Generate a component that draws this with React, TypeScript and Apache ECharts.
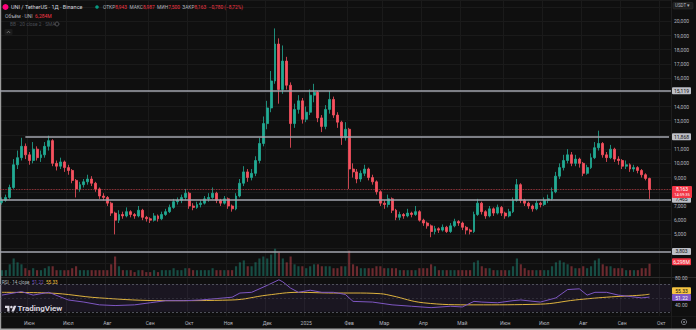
import React, { useEffect, useRef } from 'react';
import * as echarts from 'echarts';

// ---------- DATA (3-day candles, UNI/USDT) ----------
const START_DATE = '2024-05-11';
const SLOT_COUNT = 172; // candles + empty right margin slots
const FIRST_OPEN = 7.25;

const closes = [
  7.4, 7.6, 8.3, 9.9, 10.4, 11.2, 10.6, 10.2, 11.0, 10.4,
  10.6, 11.2, 11.6, 10.0, 9.8, 10.1, 9.7, 9.5, 8.8, 8.2,
  8.5, 8.7, 8.9, 8.6, 8.2, 7.7, 7.6, 7.2, 6.5, 6.0,
  6.4, 6.3, 6.6, 6.4, 6.3, 6.7, 6.2, 6.1, 6.0, 6.3,
  6.1, 6.4, 6.6, 6.9, 7.3, 7.4, 7.6, 7.9, 7.0, 6.9,
  7.1, 7.2, 7.5, 7.6, 7.9, 7.4, 7.2, 7.5, 7.0, 6.8,
  7.7, 8.6, 9.4, 9.0, 9.3, 10.2, 11.4, 12.8, 13.9, 15.8,
  18.4, 15.2, 17.2, 15.5, 12.8, 13.8, 14.4, 13.1, 13.6, 14.8,
  15.0, 13.2, 12.6, 13.8, 14.5, 13.4, 12.9, 11.8, 12.4, 9.6,
  9.4, 8.9, 9.3, 9.6, 9.0, 8.7, 8.0, 7.2, 7.1, 7.5,
  6.7, 6.2, 6.4, 6.3, 6.5, 6.4, 6.6, 6.0, 5.8, 5.6,
  5.2, 5.4, 5.3, 5.5, 5.2, 5.6, 5.9, 5.8, 5.5, 5.3,
  5.2, 6.4, 7.2, 6.6, 6.3, 6.8, 6.5, 6.9, 6.5, 6.3,
  6.6, 7.4, 8.5, 7.4, 7.2, 7.0, 6.8, 7.2, 7.1, 7.4,
  7.5, 8.0, 9.1, 9.7, 10.2, 10.6, 10.0, 10.3, 10.0, 9.3,
  9.7, 10.4, 11.1, 11.4, 10.6, 10.4, 11.0, 10.3, 10.2, 9.8,
  9.9, 9.6, 9.7, 9.5, 9.2, 8.94, 8.163,
];

const lows = [
  7.1, 7.3, 7.5, 8.2, 9.6, 10.2, 10.3, 9.9, 10.0, 10.2,
  10.1, 10.4, 10.9, 9.8, 9.5, 9.6, 9.4, 9.2, 8.6, 7.6,
  8.0, 8.3, 8.5, 8.4, 8.0, 7.5, 7.4, 7.0, 6.3, 5.0,
  5.8, 6.1, 6.2, 6.2, 6.1, 6.2, 6.0, 5.9, 5.8, 5.9,
  5.9, 6.0, 6.3, 6.5, 6.8, 7.1, 7.2, 7.4, 6.8, 6.7,
  6.8, 6.9, 7.1, 7.3, 7.5, 7.2, 7.0, 7.1, 6.8, 6.6,
  6.7, 7.6, 8.4, 8.7, 8.8, 9.1, 10.0, 11.2, 12.4, 13.6,
  15.6, 14.2, 14.9, 15.2, 11.1, 12.5, 13.5, 12.8, 12.9, 13.4,
  14.3, 12.9, 12.2, 12.4, 13.5, 13.2, 12.5, 11.3, 11.6, 8.2,
  9.0, 8.6, 8.7, 9.1, 8.8, 8.5, 7.8, 7.0, 6.8, 6.9,
  6.5, 6.0, 6.0, 6.1, 6.2, 6.2, 6.3, 5.9, 5.6, 5.4,
  4.8, 5.0, 5.1, 5.2, 5.1, 5.1, 5.5, 5.6, 5.3, 5.0,
  5.0, 5.1, 6.3, 6.4, 6.1, 6.2, 6.3, 6.4, 6.3, 6.1,
  6.2, 6.5, 7.3, 7.2, 7.0, 6.8, 6.6, 6.7, 6.9, 7.0,
  7.2, 7.4, 7.9, 8.9, 9.5, 10.0, 9.8, 9.8, 9.7, 9.1,
  9.2, 9.6, 10.3, 10.9, 10.4, 10.1, 10.3, 10.1, 9.9, 9.6,
  9.6, 9.4, 9.4, 9.3, 9.0, 8.8, 7.5,
];

const highs = [
  7.6, 7.8, 8.5, 10.3, 10.9, 11.8, 11.4, 10.8, 11.5, 11.2,
  10.9, 11.5, 11.95, 11.7, 10.2, 10.4, 10.2, 9.9, 9.6, 8.9,
  8.7, 8.9, 9.2, 9.1, 8.7, 8.3, 7.9, 7.7, 7.3, 6.6,
  6.7, 6.6, 6.9, 6.7, 6.5, 7.0, 6.8, 6.3, 6.2, 6.5,
  6.4, 6.6, 6.8, 7.1, 7.5, 7.6, 7.8, 8.2, 8.0, 7.2,
  7.3, 7.4, 7.7, 7.9, 8.3, 8.0, 7.5, 7.7, 7.6, 7.1,
  7.9, 8.9, 9.8, 9.6, 9.6, 10.5, 11.8, 13.3, 14.4, 16.5,
  19.5, 18.8, 18.3, 17.5, 15.7, 14.2, 14.8, 14.6, 14.0, 15.2,
  15.6, 15.1, 13.4, 14.1, 15.1, 14.7, 13.6, 13.0, 12.9, 12.5,
  10.0, 9.6, 9.5, 9.9, 9.7, 9.2, 8.8, 8.1, 7.4, 7.8,
  7.6, 6.8, 6.6, 6.5, 6.8, 6.6, 7.0, 6.7, 6.1, 5.9,
  5.7, 5.6, 5.5, 5.7, 5.6, 5.8, 6.1, 6.0, 5.9, 5.6,
  5.4, 6.6, 7.5, 7.3, 6.7, 7.0, 6.9, 7.1, 7.0, 6.6,
  6.8, 7.6, 8.9, 8.6, 7.5, 7.3, 7.1, 7.4, 7.3, 7.6,
  7.8, 8.3, 9.4, 10.0, 10.6, 11.0, 10.8, 10.6, 10.4, 10.1,
  9.9, 10.7, 11.5, 12.3, 11.5, 10.8, 11.3, 11.1, 10.5, 10.3,
  10.2, 10.0, 9.9, 9.8, 9.6, 9.3, 8.99,
];

// volume, millions UNI
const volumes = [
  3, 3, 6, 9, 7, 6, 4, 3, 4, 3,
  3, 4, 5, 5, 3, 3, 3, 3, 4, 5,
  3, 3, 3, 3, 3, 3, 3, 3, 6, 10,
  5, 3, 3, 3, 2, 3, 3, 2, 2, 3,
  2, 3, 3, 3, 4, 3, 3, 4, 4, 3,
  3, 3, 3, 3, 4, 3, 3, 3, 3, 3,
  5, 7, 8, 5, 5, 7, 9, 10, 9, 11,
  14, 12, 9, 7, 10, 6, 5, 5, 4, 5,
  6, 6, 5, 5, 5, 4, 4, 5, 5, 13,
  6, 5, 4, 4, 4, 4, 5, 5, 4, 4,
  4, 4, 3, 3, 3, 3, 3, 4, 4, 4,
  6, 5, 3, 3, 3, 3, 3, 3, 3, 3,
  3, 7, 8, 5, 4, 4, 3, 3, 3, 3,
  3, 5, 9, 6, 4, 3, 3, 3, 3, 3,
  3, 5, 7, 8, 7, 6, 5, 4, 4, 5,
  4, 5, 8, 9, 6, 5, 5, 4, 4, 4,
  3, 3, 3, 3, 4, 4, 6.3,
];

// RSI (14) read at selected candles
const rsiIdx = [0, 5, 8, 12, 17, 21, 25, 29, 34, 38, 42, 47, 51, 59, 61, 64, 68, 71, 72, 74, 76, 79, 82, 85, 88, 90, 95, 100, 105, 110, 115, 118, 121, 123, 127, 131, 133, 138, 142, 145, 148, 150, 152, 155, 158, 161, 164, 166];
const rsiVal = [54, 59, 54, 58, 47, 44, 40, 39, 40, 43, 46, 46, 47, 51, 57, 58, 68, 76, 73, 64, 58, 61, 58, 58, 55, 45, 44, 40, 38, 36, 38, 37, 45, 44, 43, 46, 47, 44, 50, 62, 63, 54, 58, 58, 54, 52, 50, 51.22];
// RSI-based moving average
const maIdx = [0, 12, 25, 42, 59, 68, 76, 85, 90, 97, 100, 108, 121, 138, 147, 155, 164, 166];
const maVal = [58, 57, 50, 46, 47, 54, 58, 57, 57, 56, 53, 43, 40, 41, 47, 51, 54, 55.33];

// horizontal levels drawn on the chart
const levels = [15.119, 11.868, 7.465, 3.803];
const levelStartIdx = [0, 6, 0, 0];
const levelLabels = ['15,119', '11,868', '7,465', '3,803'];
const lastPrice = 8.163;
const lastPriceLabel = '8,163';
const countdownLabel = '14:59:35';
const lastVolumeLabel = '6,298M';
const rsiLabel = '51.22';
const maLabel = '55.33';
const hiddenPriceTicks = [2, 3, 4, 8, 12, 15, 21];

const MONTHS = ['Янв', 'Фев', 'Мар', 'Апр', 'Май', 'Июн', 'Июл', 'Авг', 'Сен', 'Окт', 'Ноя', 'Дек'];

// ---------- helpers ----------
const DAY = 86400000;
const startMs = Date.parse(START_DATE + 'T00:00:00Z');
const categories: string[] = [];
const monthLabels: string[] = [];
for (let i = 0; i < SLOT_COUNT; i++) {
  categories.push(new Date(startMs + i * 3 * DAY).toISOString().slice(0, 10));
  let lab = '';
  for (let k = -1; k <= 1; k++) {
    const d = new Date(startMs + (3 * i + k) * DAY);
    if (d.getUTCDate() === 1) lab = d.getUTCMonth() === 0 ? String(d.getUTCFullYear()) : MONTHS[d.getUTCMonth()];
  }
  monthLabels.push(lab);
}

const UP = '#22ab94';
const DOWN = '#f7525f';
const FONT = 'Roboto, sans-serif';

echarts.graphic.registerShape(
  'tvlogo',
  echarts.graphic.extendPath('M14 22H7V11H0V4h14v18zM28 22h-8l7.5-18h8L28 22z', {}) as any
);

export default function App() {
  const ref = useRef<HTMLDivElement>(null);

  useEffect(() => {
    const chart = echarts.init(ref.current!, null, { renderer: 'svg' });
    const opens = closes.map((c, i) => (i === 0 ? FIRST_OPEN : closes[i - 1]));
    const candles = closes.map((c, i) => [opens[i], c, lows[i], highs[i]]);

    const levelLine = { color: '#a3a6af', width: 1.5, type: 'solid' };
    const markData: any[] = levels.map((v, k) =>
      levelStartIdx[k] === 0
        ? { yAxis: v, lineStyle: levelLine }
        : [{ coord: [levelStartIdx[k], v], lineStyle: levelLine }, { coord: [SLOT_COUNT - 1, v] }]
    );
    markData.push({ yAxis: lastPrice, lineStyle: { color: DOWN, width: 0.8, type: 'dotted', opacity: 0.8 } });

    const xAxisFor = (g: number) => ({
      type: 'category',
      gridIndex: g,
      data: categories,
      boundaryGap: true,
      axisLine: { show: false },
      axisTick: { show: false },
      axisLabel:
        g === 2
          ? {
              show: true,
              interval: (i: number) => monthLabels[i] !== '',
              formatter: (_v: string, i: number) => monthLabels[i],
              color: '#b2b5be',
              fontSize: 5,
              fontFamily: FONT,
              margin: 4,
              hideOverlap: false,
            }
          : { show: false },
      splitLine:
        g === 1
          ? { show: false }
          : { show: true, interval: (i: number) => monthLabels[i] !== '', lineStyle: { color: '#1a1a1a', width: 1 } },
    });

    const option: any = {
      animation: false,
      backgroundColor: '#0f0f0f',
      grid: [
        { left: 0, right: 25, top: 0, height: 277 },
        { left: 0, right: 25, top: 237, height: 39 },
        { left: 0, right: 25, top: 277, height: 39 },
      ],
      xAxis: [xAxisFor(0), xAxisFor(1), xAxisFor(2)],
      yAxis: [
        {
          type: 'value',
          gridIndex: 0,
          position: 'right',
          min: 2,
          max: 21.5,
          interval: 1,
          axisLine: { show: false },
          axisTick: { show: false },
          axisLabel: {
            color: '#b2b5be',
            fontSize: 5,
            fontFamily: FONT,
            margin: 3,
            showMaxLabel: false,
            showMinLabel: false,
            formatter: (v: number) =>
              hiddenPriceTicks.includes(v) || v > 20.5 ? '' : v.toFixed(3).replace('.', ','),
          },
          splitLine: { show: true, lineStyle: { color: '#1a1a1a', width: 1 } },
        },
        { type: 'value', gridIndex: 1, min: 0, max: 20, show: false },
        { type: 'value', gridIndex: 2, min: 24, max: 80, show: false },
      ],
      series: [
        {
          type: 'candlestick',
          xAxisIndex: 0,
          yAxisIndex: 0,
          data: candles,
          barWidth: '62%',
          itemStyle: { color: UP, color0: DOWN, borderColor: UP, borderColor0: DOWN, borderWidth: 0.8 },
          markLine: {
            silent: true,
            symbol: ['none', 'none'],
            label: { show: false },
            data: markData,
          },
          z: 3,
        },
        {
          type: 'bar',
          xAxisIndex: 1,
          yAxisIndex: 1,
          barWidth: '55%',
          data: volumes.map((v, i) => ({
            value: v,
            itemStyle: { color: closes[i] >= opens[i] ? 'rgba(34,171,148,0.4)' : 'rgba(247,82,95,0.4)' },
          })),
          z: 1,
        },
        {
          type: 'line',
          xAxisIndex: 2,
          yAxisIndex: 2,
          data: rsiIdx.map((x, k) => [x, rsiVal[k]]),
          symbol: 'none',
          lineStyle: { color: '#7e57c2', width: 1 },
          markArea: {
            silent: true,
            itemStyle: { color: 'rgba(126,87,194,0.10)' },
            data: [[{ yAxis: 70 }, { yAxis: 30 }]],
          },
          markLine: {
            silent: true,
            symbol: ['none', 'none'],
            label: { show: false },
            lineStyle: { color: '#5d606b', type: [2, 2], width: 0.8 },
            data: [{ yAxis: 70 }, { yAxis: 50, lineStyle: { opacity: 0.4 } }, { yAxis: 30 }],
          },
          z: 4,
        },
        {
          type: 'line',
          xAxisIndex: 2,
          yAxisIndex: 2,
          data: maIdx.map((x, k) => [x, maVal[k]]),
          symbol: 'none',
          smooth: 0.4,
          lineStyle: { color: '#f5c542', width: 0.9 },
          z: 3,
        },
      ],
    };
    chart.setOption(option);

    const py = (axis: number, v: number) => chart.convertToPixel({ yAxisIndex: axis }, v) as number;
    const BOX_X = 672;
    const BOX_W = 19;
    const box = (y: number, text: string, bg: string, fg: string) => ({
      type: 'group',
      children: [
        { type: 'rect', shape: { x: BOX_X, y: y - 3.5, width: BOX_W, height: 7, r: 1 }, style: { fill: bg } },
        {
          type: 'text',
          style: {
            x: BOX_X + BOX_W / 2, y, text, fill: fg, font: `5px ${FONT}`,
            align: 'center', verticalAlign: 'middle', textAlign: 'center', textVerticalAlign: 'middle',
          },
        },
      ],
    });
    const txt = (x: number, y: number, text: string, rich: any, extra: any = {}) => ({
      type: 'text',
      style: { x, y, text, rich, font: `5px ${FONT}`, verticalAlign: 'middle', textVerticalAlign: 'middle', ...extra },
    });

    const yLast = py(0, lastPrice);
    const yMa = py(2, maVal[maVal.length - 1]);
    const yRsi = py(2, rsiVal[rsiVal.length - 1]);
    const graphics: any[] = [];

    // pane separators
    graphics.push({ type: 'rect', shape: { x: 0, y: 277, width: 696, height: 1 }, style: { fill: '#2b2b2b' } });
    graphics.push({ type: 'rect', shape: { x: 0, y: 316, width: 696, height: 0.6 }, style: { fill: '#222' } });
    graphics.push({ type: 'rect', shape: { x: 671, y: 0, width: 0.6, height: 330 }, style: { fill: '#222' } });

    // price level boxes
    levels.forEach((v, k) => graphics.push(box(py(0, v), levelLabels[k], '#bdbfc6', '#131313')));
    // current price box (two lines)
    graphics.push({
      type: 'group',
      children: [
        { type: 'rect', shape: { x: BOX_X, y: yLast - 3.5, width: BOX_W + 1, height: 12, r: 1 }, style: { fill: '#f23645' } },
        { type: 'text', style: { x: BOX_X + 10, y: yLast, text: lastPriceLabel, fill: '#fff', font: `5px ${FONT}`, align: 'center', verticalAlign: 'middle', textAlign: 'center', textVerticalAlign: 'middle' } },
        { type: 'text', style: { x: BOX_X + 10, y: yLast + 5, text: countdownLabel, fill: '#fff', font: `4px ${FONT}`, align: 'center', verticalAlign: 'middle', textAlign: 'center', textVerticalAlign: 'middle' } },
      ],
    });
    // volume box
    graphics.push(box(py(1, volumes[volumes.length - 1]) - 2, lastVolumeLabel, '#f23645', '#fff'));
    // RSI axis labels and boxes
    graphics.push(txt(675, py(2, 80) + 1, '80.00', undefined, { fill: '#b2b5be' }));
    graphics.push(txt(675, py(2, 40), '40.00', undefined, { fill: '#b2b5be' }));
    graphics.push(box(yMa - 3.5, maLabel, '#f5c542', '#131313'));
    graphics.push(box(yRsi + 0.5, rsiLabel, '#7e57c2', '#fff'));

    // USDT box
    graphics.push({ type: 'rect', shape: { x: 673, y: 2.5, width: 20, height: 6.5, r: 1 }, style: { fill: '#1e1e1e', stroke: '#333', lineWidth: 0.5 } });
    graphics.push(txt(675, 5.8, 'USDT ▾', undefined, { fill: '#b2b5be', font: `4.5px ${FONT}` }));

    // header
    graphics.push({ type: 'circle', shape: { cx: 5.5, cy: 7, r: 3 }, style: { fill: '#ff007a' } });
    graphics.push(txt(11, 7, 'UNI / TetherUS · 1Д · Binance', undefined, { fill: '#d1d4dc', font: `5.5px ${FONT}` }));
    graphics.push({ type: 'circle', shape: { cx: 97, cy: 7, r: 1.8 }, style: { fill: '#089981' } });
    graphics.push(
      txt(
        103,
        7,
        '{g|ОТКР}{r|8,943}  {g|МАКС}{r|8,987}  {g|МИН}{r|7,500}  {g|ЗАКР}{r|8,163}  {r|−0,780 (−8,72%)}',
        { g: { fill: '#b2b5be', fontSize: 4.8, fontFamily: FONT }, r: { fill: '#f23645', fontSize: 4.8, fontFamily: FONT } }
      )
    );
    graphics.push(
      txt(5, 15.5, '{g|Объём · UNI}  {r|6,284M}', {
        g: { fill: '#b2b5be', fontSize: 5, fontFamily: FONT },
        r: { fill: '#f23645', fontSize: 5, fontFamily: FONT },
      })
    );
    graphics.push(txt(10, 24, 'BB · 20 close 2 · SMA', undefined, { fill: '#4a4d55', font: `4.8px ${FONT}` }));
    graphics.push({ type: 'circle', shape: { cx: 57, cy: 24, r: 2 }, style: { fill: 'none', stroke: '#6a6d75', lineWidth: 0.7 } });
    graphics.push({ type: 'rect', shape: { x: 4.5, y: 29, width: 8, height: 6, r: 1 }, style: { fill: '#1c1c1c' } });
    graphics.push({ type: 'polyline', shape: { points: [[6.8, 33], [8.5, 31.2], [10.2, 33]] }, style: { stroke: '#a0a0a0', lineWidth: 0.6, fill: 'none' } });

    // RSI legend
    graphics.push(
      txt(2, 282.5, '{g|RSI · 14 close}  {p|51.22}  {y|55.33}', {
        g: { fill: '#b2b5be', fontSize: 4.6, fontFamily: FONT },
        p: { fill: '#7e57c2', fontSize: 4.6, fontFamily: FONT },
        y: { fill: '#f5c542', fontSize: 4.6, fontFamily: FONT },
      })
    );

    // TradingView logo
    graphics.push({ type: 'tvlogo', x: 5, y: 304.5, scaleX: 0.32, scaleY: 0.32, style: { fill: '#e8e8e8' } });
    graphics.push({ type: 'circle', shape: { cx: 5 + 20 * 0.32, cy: 304.5 + 8 * 0.32, r: 4 * 0.32 }, style: { fill: '#e8e8e8' } });
    graphics.push(txt(17.5, 308.5, 'TradingView', undefined, { fill: '#e8e8e8', font: `600 8px ${FONT}` }));

    // gear icon
    graphics.push({ type: 'circle', shape: { cx: 684, cy: 322, r: 2.6 }, style: { fill: 'none', stroke: '#8a8d95', lineWidth: 0.8 } });
    graphics.push({ type: 'circle', shape: { cx: 684, cy: 322, r: 0.9 }, style: { fill: '#8a8d95' } });

    // screenshot frame (left and bottom edges)
    graphics.push({ type: 'rect', shape: { x: 0, y: 0, width: 1.2, height: 330 }, style: { fill: '#9c9c9c' } });
    graphics.push({ type: 'rect', shape: { x: 0, y: 328.5, width: 696, height: 1.5 }, style: { fill: '#a8a8a8' } });

    chart.setOption({ graphic: graphics });

    return () => chart.dispose();
  }, []);

  return (
    <div style={{ position: 'fixed', left: 0, top: 0, width: 696, height: 330, background: '#0f0f0f' }}>
      <div ref={ref} style={{ width: 696, height: 330 }} />
    </div>
  );
}
